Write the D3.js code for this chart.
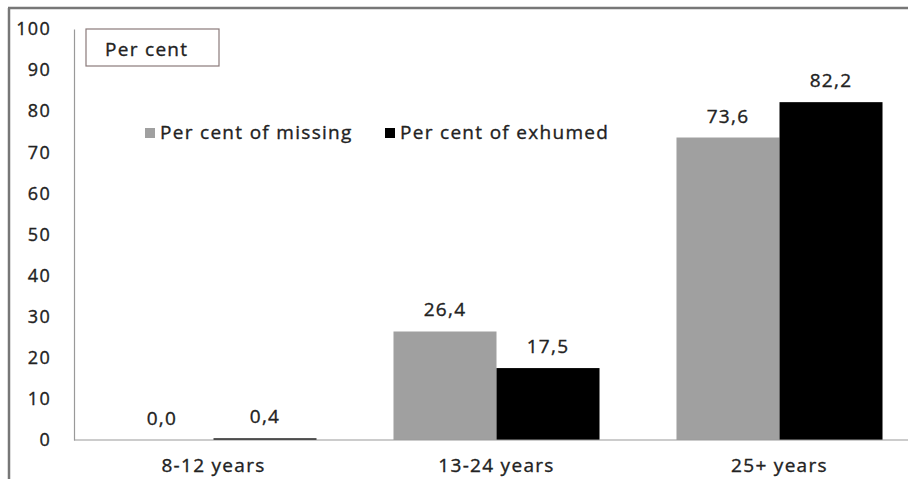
<!doctype html>
<html>
<head>
    <meta charset="utf-8">
    <script src="https://d3js.org/d3.v7.min.js"></script>
    <style>
        body { margin: 0; background: #fff; }
        svg { display: block; font-family: "Open Sans", "Noto Sans", sans-serif; }
        text { letter-spacing: 1.3px; stroke: #222; stroke-width: 0.35px; }
    </style>
</head>
<body>
<svg id="chart" width="908" height="479"></svg>
<script>
    // chart data
    var ageGroups = ["8-12 years", "13-24 years", "25+ years"];
    var seriesNames = ["Per cent of missing", "Per cent of exhumed"];
    var missing = [0.0, 26.4, 73.6];
    var exhumed = [0.4, 17.5, 82.2];
    var yTicks = [0, 10, 20, 30, 40, 50, 60, 70, 80, 90, 100];

    var colors = ["#a0a0a0", "#000000"];

    var svg = d3.select("#chart");

    // outer frame (only top and left edges visible)
    svg.append("line").attr("x1", 8).attr("x2", 908).attr("y1", 8).attr("y2", 8)
        .attr("stroke", "#777").attr("stroke-width", 2.5);
    svg.append("line").attr("x1", 9).attr("x2", 9).attr("y1", 8).attr("y2", 479)
        .attr("stroke", "#777").attr("stroke-width", 2.5);

    var x = d3.scaleBand()
        .domain(ageGroups)
        .range([72, 921])
        .paddingInner(0.272)
        .paddingOuter(0.136);

    var xs = d3.scaleBand()
        .domain(seriesNames)
        .range([0, x.bandwidth()]);

    var y = d3.scaleLinear()
        .domain([0, 100])
        .range([440, 29]);

    // y axis
    var yAxis = svg.append("g")
        .attr("transform", "translate(74,0)")
        .call(d3.axisLeft(y).tickValues(yTicks).tickSize(0).tickPadding(23));
    yAxis.select(".domain").attr("stroke", "#999").attr("stroke-width", 1.2);
    yAxis.selectAll(".tick text")
        .attr("font-size", 18)
        .attr("fill", "#222")
        .attr("font-family", "Open Sans, sans-serif");

    // bars
    var rows = ageGroups.map(function (g, i) {
        return { group: g, values: [missing[i], exhumed[i]] };
    });

    var groups = svg.selectAll("g.grp")
        .data(rows)
        .enter()
        .append("g")
        .attr("class", "grp")
        .attr("transform", d => "translate(" + x(d.group) + ",0)");

    groups.selectAll("rect")
        .data(d => d.values.map((v, j) => ({ name: seriesNames[j], v: v, j: j })))
        .enter()
        .append("rect")
        .attr("x", d => xs(d.name))
        .attr("width", xs.bandwidth())
        .attr("y", d => y(d.v))
        .attr("height", d => y(0) - y(d.v))
        .attr("fill", d => colors[d.j]);

    groups.selectAll("text.val")
        .data(d => d.values.map((v, j) => ({ name: seriesNames[j], v: v })))
        .enter()
        .append("text")
        .attr("class", "val")
        .attr("x", d => xs(d.name) + xs.bandwidth() / 2)
        .attr("y", d => y(d.v) - 15)
        .attr("text-anchor", "middle")
        .attr("font-size", 19)
        .attr("fill", "#222")
        .text(d => d3.format(".1f")(d.v).replace(".", ","));

    // x axis baseline + labels
    var xAxis = svg.append("g")
        .attr("transform", "translate(0," + y(0) + ")")
        .call(d3.axisBottom(x).tickSize(0).tickPadding(19));
    xAxis.select(".domain").attr("stroke", "#999").attr("stroke-width", 1.2)
        .attr("d", "M74,0H908");
    xAxis.selectAll(".tick text")
        .attr("font-size", 19)
        .attr("fill", "#222")
        .attr("font-family", "Open Sans, sans-serif");

    // "Per cent" box
    svg.append("rect")
        .attr("x", 86).attr("y", 29).attr("width", 133).attr("height", 37)
        .attr("fill", "#fff").attr("stroke", "#8a7a7a").attr("stroke-width", 1.2);
    svg.append("text")
        .attr("x", 105).attr("y", 56)
        .attr("font-size", 19).attr("fill", "#222")
        .text("Per cent");

    // legend
    var legendX = [145, 385];
    var legend = svg.selectAll("g.leg")
        .data(seriesNames)
        .enter()
        .append("g")
        .attr("class", "leg")
        .attr("transform", (d, i) => "translate(" + legendX[i] + ",0)");
    legend.append("rect")
        .attr("x", 0).attr("y", 128).attr("width", 10).attr("height", 10)
        .attr("fill", (d, i) => colors[i]);
    legend.append("text")
        .attr("x", 15).attr("y", 139)
        .attr("font-size", 19).attr("fill", "#222")
        .text(d => d);
</script>
</body>
</html>
